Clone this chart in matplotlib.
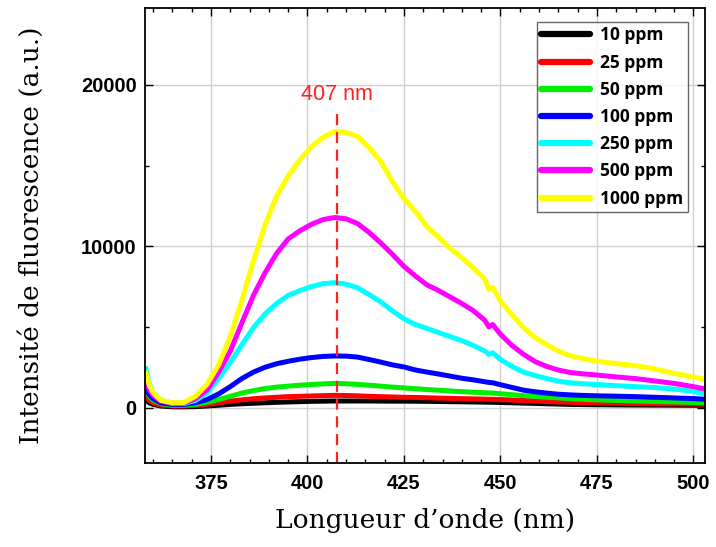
import matplotlib
matplotlib.use("Agg")
import matplotlib.pyplot as plt
from matplotlib.ticker import MultipleLocator

wavelength = [358, 359, 360, 362, 365, 368, 371, 374, 377, 380,
              383, 386, 389, 392, 395, 398, 401, 404, 407, 410,
              413, 416, 419, 422, 425, 428, 431, 434, 437, 440,
              443, 446, 447, 448, 450, 453, 456, 459, 462, 465,
              468, 471, 475, 480, 485, 490, 495, 500, 503]

ppm_10 = [500, 300, 200, 100, 50, 50, 60, 100, 150, 200,
          240, 270, 300, 330, 350, 370, 390, 400, 410, 410,
          410, 410, 405, 400, 400, 395, 390, 380, 370, 360,
          350, 340, 335, 330, 320, 300, 280, 260, 240, 220,
          200, 190, 180, 170, 160, 155, 150, 145, 140]
ppm_25 = [700, 450, 300, 150, 100, 100, 130, 200, 300, 400,
          480, 550, 600, 640, 680, 700, 720, 740, 760, 750,
          730, 700, 680, 660, 640, 630, 610, 590, 570, 555,
          540, 525, 520, 515, 500, 470, 440, 410, 380, 350,
          330, 310, 290, 270, 250, 240, 230, 220, 210]
ppm_50 = [1100, 700, 450, 250, 150, 150, 200, 330, 500, 700,
          900, 1050, 1180, 1270, 1330, 1390, 1430, 1470, 1500, 1480,
          1440, 1390, 1330, 1270, 1220, 1170, 1120, 1080, 1030, 990,
          950, 920, 910, 900, 860, 800, 740, 690, 640, 600,
          560, 520, 480, 440, 410, 380, 350, 320, 300]
ppm_100 = [1300, 800, 550, 300, 200, 200, 300, 500, 850, 1300,
           1800, 2200, 2500, 2720, 2870, 3000, 3100, 3170, 3200, 3190,
           3130, 2980, 2820, 2650, 2520, 2330, 2200, 2080, 1950, 1820,
           1720, 1600, 1560, 1540, 1420, 1250, 1080, 980, 900, 830,
           790, 760, 730, 710, 680, 640, 600, 560, 520]
ppm_250 = [2550, 1500, 900, 450, 260, 250, 450, 900, 1800, 2800,
           3900, 4950, 5800, 6450, 6950, 7250, 7500, 7680, 7740, 7650,
           7420, 7000, 6550, 6000, 5500, 5150, 4900, 4650, 4400, 4150,
           3850, 3500, 3300, 3400, 2980, 2550, 2200, 1990, 1800, 1640,
           1540, 1480, 1430, 1360, 1300, 1240, 1150, 1000, 850]
ppm_500 = [1800, 1100, 750, 400, 280, 280, 550, 1100, 2200, 3500,
           5250, 6950, 8350, 9550, 10450, 10950, 11350, 11650, 11780, 11700,
           11400, 10850, 10200, 9500, 8750, 8150, 7600, 7250, 6850, 6450,
           6000, 5400, 5000, 5150, 4550, 3850, 3300, 2850, 2550, 2330,
           2180, 2100, 2020, 1900, 1800, 1650, 1500, 1300, 1150]
ppm_1000 = [2300, 1400, 930, 450, 300, 320, 700, 1450, 2650, 4400,
            6650, 9100, 11300, 13100, 14350, 15350, 16150, 16750, 17100, 17050,
            16800, 16100, 15250, 14000, 12950, 12150, 11200, 10550, 9850, 9300,
            8650, 7950, 7300, 7450, 6600, 5750, 4950, 4330, 3900, 3500,
            3220, 3050, 2880, 2720, 2600, 2400, 2120, 1900, 1750]

labels = ["10 ppm", "25 ppm", "50 ppm", "100 ppm", "250 ppm", "500 ppm", "1000 ppm"]
series = [ppm_10, ppm_25, ppm_50, ppm_100, ppm_250, ppm_500, ppm_1000]
colors = ["#000000", "#ff0000", "#00ee00", "#0000ff", "#00ffff", "#ff00ff", "#ffff00"]

peak_nm = 407.6
peak_label = "407 nm"

fig = plt.figure(figsize=(7.16, 5.47), dpi=100)
ax = fig.add_axes([0.2025, 0.1536, 0.7821, 0.8318])

for ys, c, lab in zip(series, colors, labels):
    ax.plot(wavelength, ys, color=c, lw=3.6, label=lab, solid_capstyle="butt")

ax.set_xlim(357.9, 503)
ax.set_ylim(-3430, 24760)

ax.plot([peak_nm, peak_nm], [-3430, 18300], color="#ff2020", lw=1.6, ls=(0, (5, 3)))
ax.text(peak_nm, 18750, peak_label, color="#ff2020", ha="center", va="bottom",
        fontsize=15.5, family="Liberation Sans")

ax.xaxis.set_major_locator(MultipleLocator(25))
ax.xaxis.set_minor_locator(MultipleLocator(5))
ax.yaxis.set_major_locator(MultipleLocator(10000))
ax.yaxis.set_minor_locator(MultipleLocator(5000))
ax.grid(True, which="major", color="#d0d0d0", lw=1.0)
ax.set_axisbelow(True)
ax.tick_params(which="both", direction="in", top=True, right=True, width=1.0)
ax.tick_params(which="major", length=6)
ax.tick_params(which="minor", length=3)
for s in ax.spines.values():
    s.set_linewidth(1.3)
for lab in ax.get_xticklabels() + ax.get_yticklabels():
    lab.set_fontfamily("Liberation Sans")
    lab.set_fontweight("bold")
    lab.set_fontsize(14.5)
ax.tick_params(axis="x", pad=8)
ax.tick_params(axis="y", pad=6)

ax.set_xlabel("Longueur d\u2019onde (nm)", family="DejaVu Serif", fontsize=19, labelpad=11)
ax.set_ylabel("Intensit\u00e9 de fluorescence (a.u.)", family="DejaVu Serif", fontsize=19, labelpad=27)

leg = ax.legend(loc="upper right", bbox_to_anchor=(0.9696, 0.969), borderaxespad=0,
                frameon=True, fancybox=False,
                edgecolor="#404040", handlelength=2.8, handletextpad=0.6, labelspacing=0.53,
                borderpad=0.25, prop={"family": "Open Sans", "weight": "bold", "size": 12.5})
leg.get_frame().set_linewidth(1.0)
for line in leg.get_lines():
    line.set_linewidth(4.5)
    line.set_solid_capstyle("round")

fig.savefig("out.png", dpi=100)
